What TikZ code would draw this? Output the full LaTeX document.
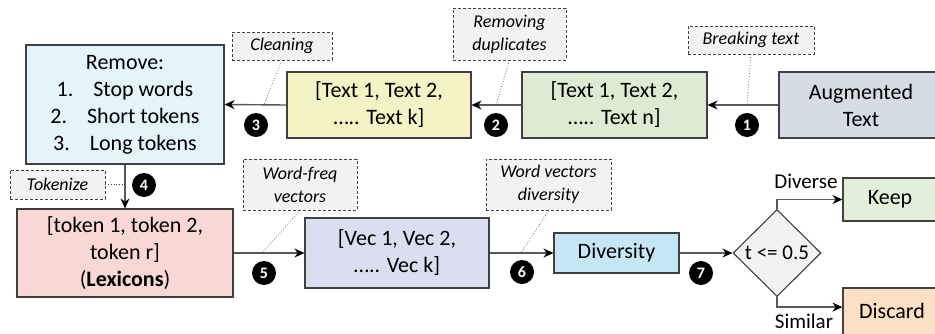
\documentclass[tikz,border=0pt]{standalone}
\usepackage{fontspec}
\setmainfont{Carlito}
\usetikzlibrary{arrows.meta,shapes.geometric,calc}

\definecolor{edge}{HTML}{404040}
\definecolor{wire}{HTML}{595959}
\definecolor{cRemove}{HTML}{E5F3FA}
\definecolor{cYellow}{HTML}{F3F3C5}
\definecolor{cGreen}{HTML}{DDEBD3}
\definecolor{cAug}{HTML}{D6DCE5}
\definecolor{cPink}{HTML}{F8D7D5}
\definecolor{cVec}{HTML}{DADEF0}
\definecolor{cDiv}{HTML}{C5E6F5}
\definecolor{cDia}{HTML}{F2F2F2}
\definecolor{cKeep}{HTML}{E2F0DA}
\definecolor{cDisc}{HTML}{FBE0C4}
\definecolor{cTag}{HTML}{F2F2F2}

\tikzset{
  box/.style={draw=edge, line width=1.1pt, align=center, inner sep=0pt,
    font=\fontsize{22}{27}\selectfont},
  tag/.style={draw=edge, dash pattern=on 3pt off 2pt, line width=0.9pt, fill=cTag,
    align=center, inner sep=0pt, font=\fontsize{18}{23}\selectfont\itshape},
  arr/.style={draw=wire, line width=1.4pt, -{Stealth[length=10pt,width=9pt,black]}},
  lead/.style={draw=edge, dotted, line width=0.7pt},
  num/.style={circle, fill=black, text=white, inner sep=0pt, minimum size=24pt,
    font=\fontsize{16}{16}\selectfont\bfseries},
  lbl/.style={font=\fontsize{21}{25}\selectfont, inner sep=0pt}
}

\begin{document}
\begin{tikzpicture}[x=1pt,y=-1pt]
\useasboundingbox (0,0) rectangle (935,333);
\clip (0,0) rectangle (935,333);

% processing boxes
\node[box, fill=cRemove, minimum width=198pt, minimum height=119pt] (rem) at (125,104.5)
  {Remove:\\1.\hspace{20pt}Stop words\\2.\hspace{20pt}Short tokens\\3.\hspace{20pt}Long tokens};
\node[box, fill=cYellow, minimum width=184pt, minimum height=66pt] (yel) at (379,105)
  {[Text 1, Text 2,\\….. Text k]};
\node[box, fill=cGreen, minimum width=185pt, minimum height=66pt] (grn) at (614.5,105)
  {[Text 1, Text 2,\\….. Text n]};
\node[box, fill=cAug, minimum width=164pt, minimum height=66pt] (aug) at (861,105)
  {Augmented\\Text};
\node[box, fill=cPink, minimum width=216pt, minimum height=88pt] (pink) at (125,253)
  {[token 1, token 2,\\token r]\\(\textbf{Lexicons})};
\node[box, fill=cVec, minimum width=184pt, minimum height=70pt] (vec) at (397,253)
  {[Vec 1, Vec 2,\\….. Vec k]};
\node[box, fill=cDiv, minimum width=125pt, minimum height=40pt] (div) at (616.5,253)
  {Diversity};
\node[box, diamond, fill=cDia, minimum width=88pt, minimum height=87pt,
  font=\fontsize{21}{25}\selectfont] (dia) at (777,253) {t <= 0.5};
\node[box, fill=cKeep, minimum width=94pt, minimum height=43pt] (keep) at (890,199.5) {Keep};
\node[box, fill=cDisc, minimum width=98pt, minimum height=52pt] (disc) at (892,314)
  {\raisebox{7pt}{Discard}};

% annotation tags
\node[tag, minimum width=126pt, minimum height=28pt] (brk) at (751,40) {Breaking text};
\node[tag, minimum width=113pt, minimum height=52pt] (dup) at (509.5,34) {Removing\\duplicates};
\node[tag, minimum width=100pt, minimum height=28pt] (cln) at (282,46) {Cleaning};
\node[tag, minimum width=95pt, minimum height=29pt] (tok) at (57.5,184.5) {Tokenize};
\node[tag, minimum width=114pt, minimum height=51pt] (wf) at (300,184.5) {Word-freq\\vectors};
\node[tag, minimum width=125pt, minimum height=51pt] (wvd) at (548.5,184.5) {Word vectors\\diversity};

% main flow
\draw[arr] (aug.west) -- (grn.east);
\draw[arr] (grn.west) -- (yel.east);
\draw[arr] (yel.west) -- (rem.east);
\draw[arr] (rem.south) -- (pink.north);
\draw[arr] (pink.east) -- (vec.west);
\draw[arr] (vec.east) -- (div.west);
\draw[arr] (div.east) -- (dia.west);
\draw[arr] (dia.north) |- (keep.west);
\draw[arr] (dia.south) |- ($(disc.north west)!0.37!(disc.south west)$);

% where the tags touch the flow
\coordinate (t1) at (747,105);
\coordinate (t2) at (496,105);
\coordinate (t3) at (264,105);
\coordinate (t4) at (125,184.5);
\coordinate (t5) at (262,253);
\coordinate (t6) at (521,253);
\draw[lead] (brk.south) -- (t1);
\draw[lead] (dup.south) -- (t2);
\draw[lead] (cln.south) -- (t3);
\draw[lead] (tok.east) -- (t4);
\draw[lead] (wf.south) -- (t5);
\draw[lead] (wvd.south) -- (t6);

% step numbers
\node[num] (n1) at (747,125) {1};
\node[num] (n2) at (496,125) {2};
\node[num] (n3) at (256,125) {3};
\node[num] (n4) at (144,185) {4};
\node[num] (n5) at (264,273) {5};
\node[num] (n6) at (522,272) {6};
\node[num] (n7) at (701,273) {7};

% branch labels
\node[lbl] (lDiv) at (806,181) {Diverse};
\node[lbl] (lSim) at (804,321) {Similar};
\end{tikzpicture}
\end{document}
